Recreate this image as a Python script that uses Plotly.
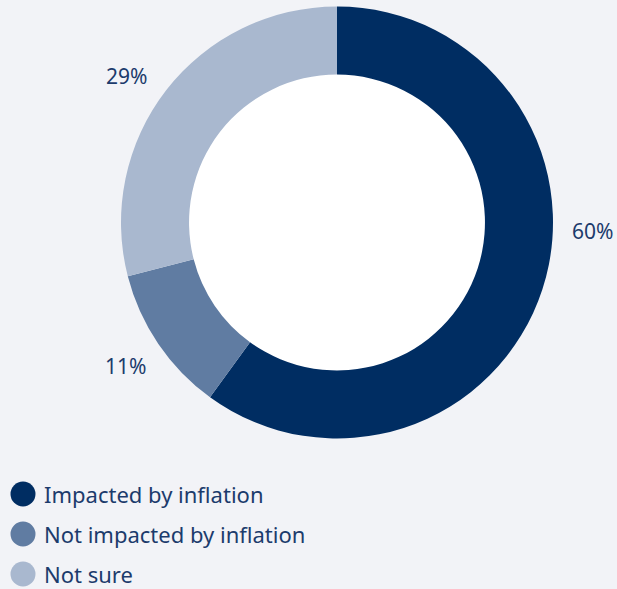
import math
import plotly.graph_objects as go

labels = ["Impacted by inflation", "Not impacted by inflation", "Not sure"]
values = [60, 11, 29]
colors = ["#002d62", "#607ca2", "#a9b8cf"]

W, H = 617, 589
BG = "#f2f3f7"
TXT = "#1c3b6c"
FONT = "Noto Sans"

# pie geometry (pixels)
CX, CY, R_OUT = 337, 222.5, 216
HOLE = 0.685
R_LABEL = 256
ANGLE_TWEAK = [-16, 0, -3]  # degrees, style nudge of label placement

fig = go.Figure()
fig.add_trace(go.Pie(
    labels=labels, values=values, sort=False, direction="clockwise", rotation=0,
    hole=HOLE, marker=dict(colors=colors, line=dict(width=0)),
    textinfo="none",
    domain=dict(x=[(CX - R_OUT) / W, (CX + R_OUT) / W],
                y=[1 - (CY + R_OUT) / H, 1 - (CY - R_OUT) / H]),
    showlegend=False, hoverinfo="label+percent",
))

shapes, annots = [], []
# white centre
rh = R_OUT * HOLE + 2
shapes.append(dict(type="circle", xref="paper", yref="paper", layer="below",
                   x0=(CX - rh) / W, x1=(CX + rh) / W,
                   y0=1 - (CY + rh) / H, y1=1 - (CY - rh) / H,
                   fillcolor="white", line=dict(width=0)))

# percentage labels placed at slice mid-angles
total = sum(values)
start = 0.0
for v, tw in zip(values, ANGLE_TWEAK):
    ang = 360.0 * (start + v / 2) / total + tw
    start += v
    a = math.radians(ang)
    px = CX + R_LABEL * math.sin(a)
    py = CY - R_LABEL * math.cos(a)
    annots.append(dict(text=f"{v}%", xref="paper", yref="paper", x=px / W, y=1 - py / H,
                       xanchor="center", yanchor="middle", showarrow=False,
                       font=dict(family=FONT, size=21, color=TXT)))

# custom legend with large circular swatches
for i, (lab, col) in enumerate(zip(labels, colors)):
    cy = 494 + 40 * i
    cx, r = 23, 12.5
    shapes.append(dict(type="circle", xref="paper", yref="paper",
                       x0=(cx - r) / W, x1=(cx + r) / W,
                       y0=1 - (cy + r) / H, y1=1 - (cy - r) / H,
                       fillcolor=col, line=dict(width=0)))
    annots.append(dict(text=lab, xref="paper", yref="paper", x=42 / W, y=1 - cy / H,
                       xanchor="left", yanchor="middle", showarrow=False,
                       font=dict(family=FONT, size=22, color=TXT)))

fig.update_layout(
    width=W, height=H, margin=dict(l=0, r=0, t=0, b=0),
    paper_bgcolor=BG, plot_bgcolor=BG,
    shapes=shapes, annotations=annots,
)
fig.write_html("out.html")
